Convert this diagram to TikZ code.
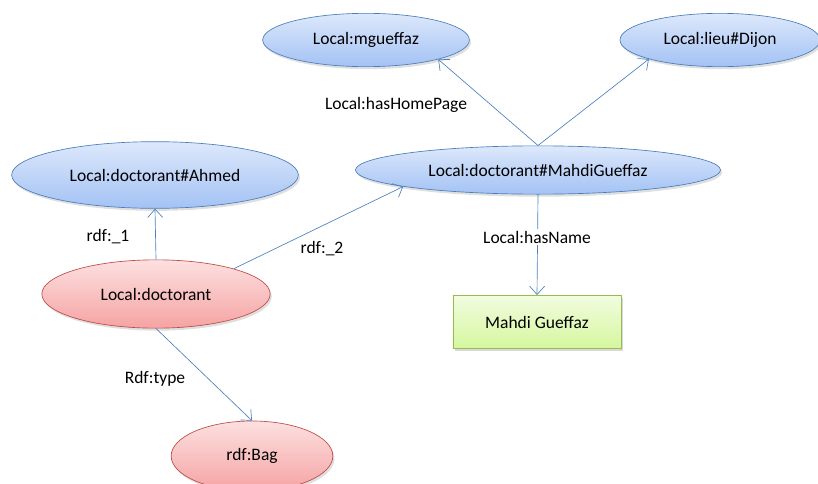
\documentclass[tikz,border=0pt]{standalone}
\usepackage{fontspec}
\setmainfont{Carlito}
\usepackage{tikz}
\usetikzlibrary{shapes.geometric,shadows,arrows.meta}

\definecolor{edgeblue}{HTML}{4F81BD}
\definecolor{blueline}{HTML}{4A7EBB}
\definecolor{bluetop}{HTML}{DDE8FB}
\definecolor{bluebot}{HTML}{A3C2F4}
\definecolor{redline}{HTML}{BE4B48}
\definecolor{redtop}{HTML}{FDE0E0}
\definecolor{redbot}{HTML}{F5A3A3}
\definecolor{greenline}{HTML}{98B954}
\definecolor{greentop}{HTML}{F2FCE0}
\definecolor{greenbot}{HTML}{D5F79E}

\begin{document}
\begin{tikzpicture}[x=0.6pt,y=-0.6pt,
	font=\fontsize{10.5}{12}\selectfont,
	res/.style={ellipse,draw=blueline,top color=bluetop,bottom color=bluebot,
		inner sep=0pt,drop shadow={opacity=0.25,shadow xshift=1pt,shadow yshift=-1.5pt}},
	cls/.style={ellipse,draw=redline,top color=redtop,bottom color=redbot,
		inner sep=0pt,drop shadow={opacity=0.25,shadow xshift=1pt,shadow yshift=-1.5pt}},
	lit/.style={rectangle,draw=greenline,top color=greentop,bottom color=greenbot,
		inner sep=0pt,drop shadow={opacity=0.3,shadow xshift=1pt,shadow yshift=-1.5pt}},
	prop/.style={draw=edgeblue,-{Straight Barb[length=5pt,width=9pt]}},
	lbl/.style={fill=white,inner sep=1pt}]

	\useasboundingbox (0,0) rectangle (818,483);

	% resources

	\node[res,minimum width=124pt,minimum height=32pt] (home) at (366,40) {Local:mgueffaz};
	\node[res,minimum width=120pt,minimum height=32pt] (lieu) at (720,40) {Local:lieu\#Dijon};
	\node[res,minimum width=172pt,minimum height=40pt] (ahmed) at (155,175) {Local:doctorant\#Ahmed};
	\node[res,minimum width=219pt,minimum height=29pt] (mahdi) at (538,170) {Local:doctorant\#MahdiGueffaz};

	% classes and literal

	\node[cls,minimum width=137pt,minimum height=41pt] (doc) at (156,294) {Local:doctorant};
	\node[cls,minimum width=97pt,minimum height=42pt] (bag) at (252,456) {rdf:Bag};
	\node[lit,minimum width=101pt,minimum height=32pt] (name) at (537,322) {Mahdi Gueffaz};

	% properties

	\draw[prop] (doc.south) -- (bag.north);
	\draw[prop] (doc.north) -- (ahmed.south);
	\draw[prop] (doc.18) -- (mahdi.187);
	\draw[prop] (mahdi.north) -- (home.-15);
	\draw[prop] (mahdi.north) -- (lieu.195);
	\draw[prop] (mahdi.south) -- (name.north);

	% labels

	\node (ltype) at (155,379) {Rdf:type};
	\node (lone) at (108,237) {rdf:\_1};
	\node (ltwo) at (322,249) {rdf:\_2};
	\node (lhome) at (396,105) {Local:hasHomePage};
	\node[lbl] (lname) at (537,237) {Local:hasName};

\end{tikzpicture}
\end{document}
